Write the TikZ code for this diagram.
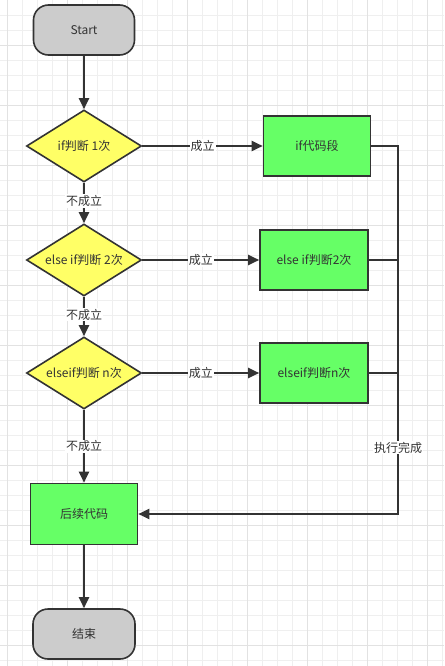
\documentclass[tikz,border=0pt]{standalone}
\usepackage{fontspec}
\setmainfont{Noto Sans CJK SC}
\usetikzlibrary{shapes.geometric,arrows.meta}
\definecolor{gridminor}{HTML}{EFEFEF}
\definecolor{gridmajor}{HTML}{E2E2E2}
\definecolor{strokec}{HTML}{333333}
\definecolor{termfill}{HTML}{CCCCCC}
\definecolor{decfill}{HTML}{FFFF66}
\definecolor{procfill}{HTML}{66FF66}
\tikzset{
  base/.style={draw=strokec, line width=1.6pt, text=strokec, font=\fontsize{12}{14}\selectfont, inner sep=0pt, align=center},
  term/.style={base, fill=termfill, rounded corners=15pt, minimum width=101pt, minimum height=50pt},
  dec/.style={base, shape=diamond, aspect=1.6, fill=decfill, minimum width=115pt, minimum height=72pt},
  proc/.style={base, fill=procfill, minimum width=107pt, minimum height=60pt},
  conn/.style={draw=strokec, line width=2pt},
  arr/.style={conn, -{Triangle[length=11pt,width=10pt]}},
  lbl/.style={fill=white, text=strokec, font=\fontsize{12}{14}\selectfont, inner sep=1pt}
}
\begin{document}
\begin{tikzpicture}[x=1pt,y=-1pt]
\useasboundingbox (0,0) rectangle (444,666);
\fill[white] (0,0) rectangle (444,666);
% grid
\foreach \i in {0,...,29} {\draw[gridminor,line width=0.8pt] (7+15*\i,0) -- (7+15*\i,666);}
\foreach \j in {1,...,44} {\draw[gridminor,line width=0.8pt] (0,15*\j) -- (444,15*\j);}
\foreach \i in {0,...,7} {\draw[gridmajor,line width=0.9pt] (7+60*\i,0) -- (7+60*\i,666);}
\foreach \j in {0,...,10} {\draw[gridmajor,line width=0.9pt] (0,45+60*\j) -- (444,45+60*\j);}
% nodes
\node[term] (start) at (84,30) {Start};
\node[dec] (d1) at (84,146) {if判断 1次};
\node[dec] (d2) at (84,260) {else if判断 2次};
\node[dec] (d3) at (84,373) {elseif判断 n次};
\node[proc] (b1) at (317,146) {if代码段};
\node[proc, minimum width=108pt] (b2) at (314,260) {else if判断2次};
\node[proc, minimum width=108pt] (b3) at (314,373) {elseif判断n次};
\node[proc, minimum width=107pt, minimum height=61pt] (after) at (84,514) {后续代码};
\node[term, minimum width=102pt] (end) at (84,634) {结束};
\coordinate (c1) at (398,146);
\coordinate (c4) at (398,514);
% connectors
\draw[arr] (start) -- (d1);
\draw[arr] (d1) -- node[lbl, pos=0.45]{不成立} (d2);
\draw[arr] (d2) -- node[lbl, pos=0.45]{不成立} (d3);
\draw[arr] (d3) -- node[lbl, pos=0.5]{不成立} (after);
\draw[arr] (after) -- (end);
\draw[arr] (d1) -- node[lbl]{成立} (b1);
\draw[arr] (d2) -- node[lbl]{成立} (b2);
\draw[arr] (d3) -- node[lbl]{成立} (b3);
\draw[conn] (b2.east) -- (b2.east -| c1);
\draw[conn] (b3.east) -- (b3.east -| c1);
\draw[arr, line join=miter] (b1.east) -- (c1) -- node[lbl, pos=0.82]{执行完成} (c4) -- (after.east);
\end{tikzpicture}
\end{document}
